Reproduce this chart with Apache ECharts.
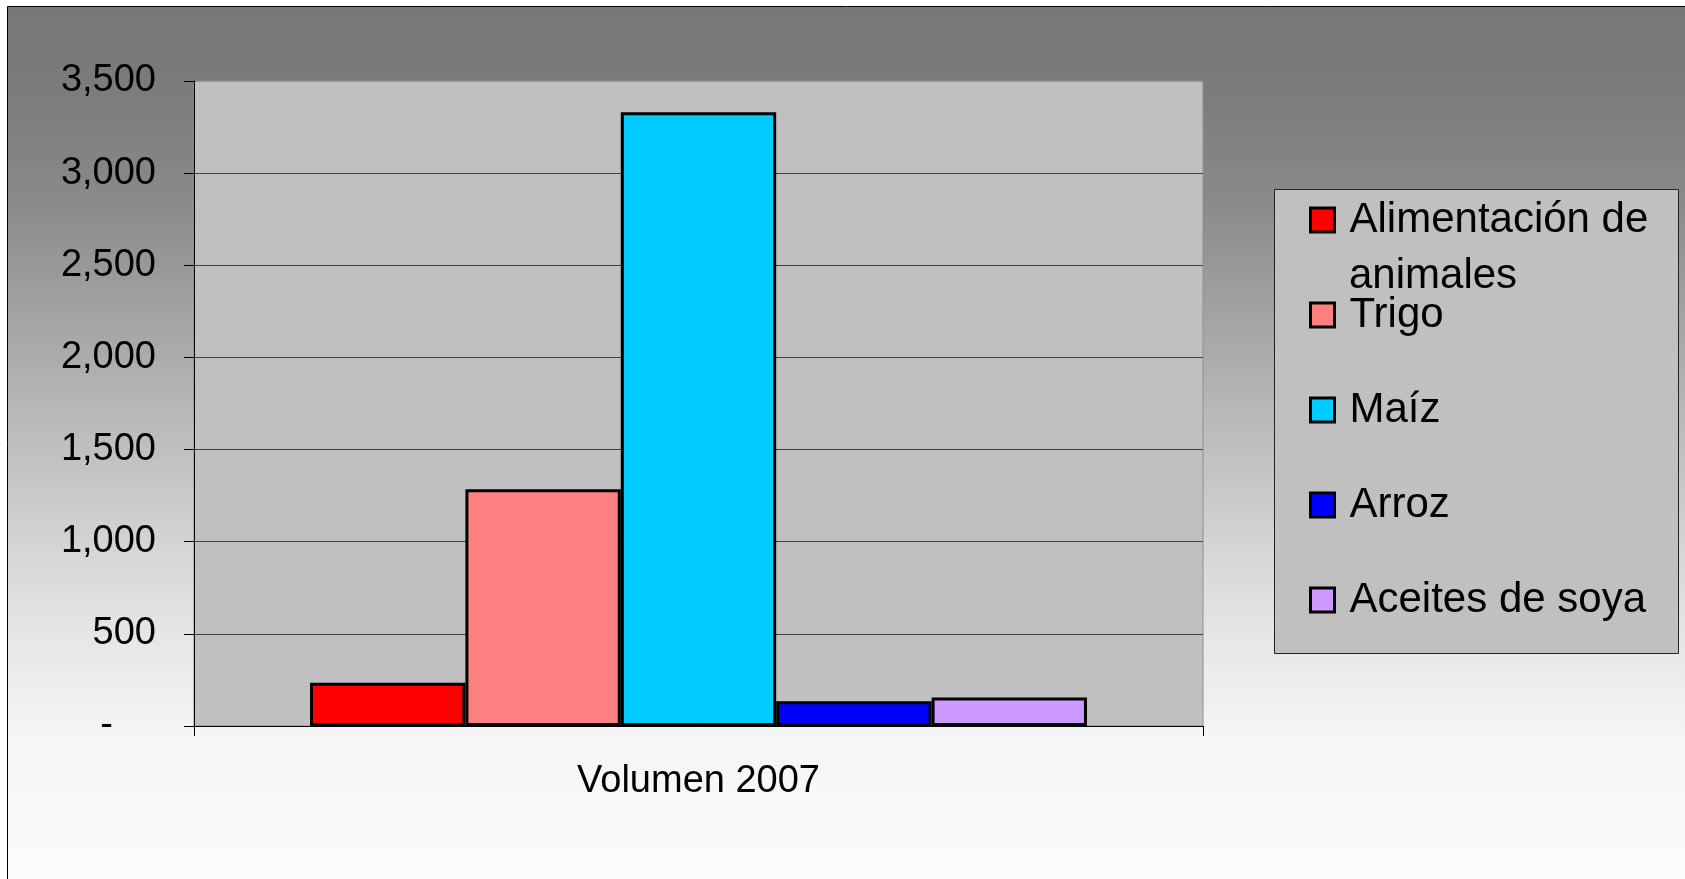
<!DOCTYPE html>
<html>
<head>
<meta charset="utf-8">
<script src="https://cdn.jsdelivr.net/npm/echarts@6/dist/echarts.min.js"></script>
<style>
html,body{margin:0;padding:0;background:#fff;}
#chart{width:1685px;height:879px;}
</style>
</head>
<body>
<div id="chart"></div>
<script>
const categories = ['Volumen 2007'];
const seriesNames = ['Alimentación de animales', 'Trigo', 'Maíz', 'Arroz', 'Aceites de soya'];
const seriesValues = [235, 1285, 3330, 134, 154];
const seriesColors = ['#ff0000', '#ff8080', '#00ccff', '#0000ff', '#cc99ff'];
const yMin = 0, yMax = 3500, yInterval = 500;

const FONT = 'Liberation Sans, Arial, sans-serif';
const chart = echarts.init(document.getElementById('chart'));

const series = seriesNames.map((name, i) => ({
  name: name,
  type: 'bar',
  data: [seriesValues[i]],
  barGap: '0%',
  barCategoryGap: '23%',
  itemStyle: { color: seriesColors[i], borderColor: '#000', borderWidth: 3 },
  emphasis: { disabled: true },
  animation: false
}));

chart.setOption({
  animation: false,
  backgroundColor: '#ffffff',
  graphic: [
    {
      type: 'rect', z: -10, silent: true,
      shape: { x: 7.5, y: 6.5, width: 1700, height: 900 },
      style: {
        fill: new echarts.graphic.LinearGradient(0, 0, 0, 1, [
          { offset: 0, color: '#777777' },
          { offset: 0.1, color: '#7c7c7c' },
          { offset: 0.216, color: '#8a8a8a' },
          { offset: 0.438, color: '#b5b5b5' },
          { offset: 0.66, color: '#e0e0e0' },
          { offset: 0.808, color: '#f5f5f5' },
          { offset: 1, color: '#fdfdfd' }
        ]),
        stroke: '#000', lineWidth: 1
      }
    },
    {
      type: 'rect', z: 1, silent: true,
      shape: { x: 1274.5, y: 189.5, width: 404, height: 464 },
      style: { fill: '#c0c0c0', stroke: '#222', lineWidth: 1 }
    },
    {
      type: 'text', z: 10, silent: true,
      x: 1349, y: 276,
      style: { text: 'animales', font: '42px ' + FONT, fill: '#000', verticalAlign: 'middle', align: 'left' }
    }
  ],
  legend: {
    orient: 'vertical',
    left: 1309,
    top: 197,
    padding: 0,
    itemGap: 49,
    itemWidth: 24,
    itemHeight: 24,
    icon: 'rect',
    selectedMode: false,
    itemStyle: { borderColor: '#000', borderWidth: 3 },
    textStyle: { fontFamily: FONT, fontSize: 42, color: '#000', lineHeight: 46, padding: [0, 0, 0, 10] },
    formatter: function (name) { return name === 'Alimentación de animales' ? 'Alimentación de' : name; },
    data: seriesNames
  },
  grid: {
    left: 194, top: 81, right: 482, bottom: 153,
    show: true, backgroundColor: '#c0c0c0', borderColor: '#8f8f8f', borderWidth: 1
  },
  xAxis: {
    type: 'category',
    data: categories,
    axisLine: { lineStyle: { color: '#000', width: 1 } },
    axisTick: { show: true, length: 10, lineStyle: { color: '#000' } },
    axisLabel: { fontFamily: FONT, fontSize: 38, color: '#000', margin: 37, lineHeight: 38 }
  },
  yAxis: {
    type: 'value',
    min: yMin, max: yMax, interval: yInterval,
    axisLine: { show: true, lineStyle: { color: '#000', width: 1 } },
    axisTick: { show: true, length: 10, lineStyle: { color: '#000' } },
    splitLine: { show: true, lineStyle: { color: ['#000', '#404040', '#404040', '#404040', '#404040', '#404040', '#404040', '#999999'], width: 1 } },
    axisLabel: {
      fontFamily: FONT, fontSize: 38, color: '#000', margin: 38,
      formatter: function (v) { return v === 0 ? '{d|-}' : v.toLocaleString('en-US'); },
      rich: { d: { fontFamily: FONT, fontSize: 38, color: '#000', padding: [0, 43, 0, 0] } }
    }
  },
  series: series
});
</script>
</body>
</html>
